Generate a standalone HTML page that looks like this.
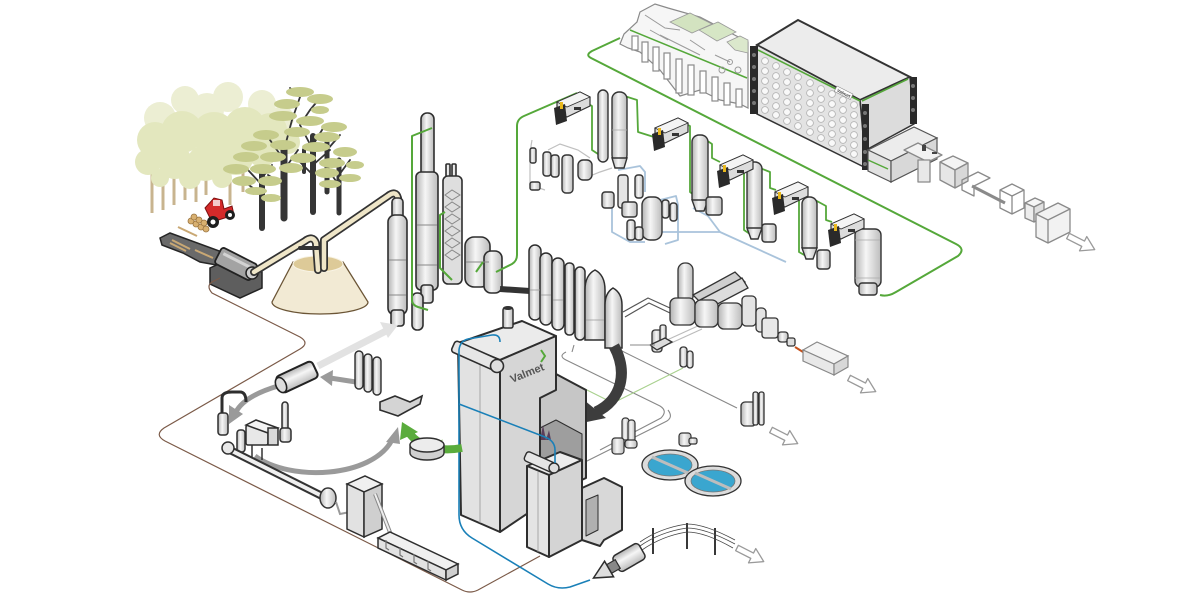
<!DOCTYPE html>
<html><head><meta charset="utf-8">
<style>html,body{margin:0;padding:0;background:#fff}svg{display:block}</style>
</head><body>
<svg xmlns="http://www.w3.org/2000/svg" width="1200" height="600" viewBox="0 0 1200 600">
<defs>
<linearGradient id="cy" x1="0" x2="1" y1="0" y2="0">
<stop offset="0" stop-color="#b3b3b3"/><stop offset="0.42" stop-color="#f6f6f6"/><stop offset="1" stop-color="#bcbcbc"/>
</linearGradient>
<linearGradient id="cyv" x1="0" x2="0" y1="0" y2="1">
<stop offset="0" stop-color="#b3b3b3"/><stop offset="0.42" stop-color="#f6f6f6"/><stop offset="1" stop-color="#bcbcbc"/>
</linearGradient>
<g id="wsh">
<polygon points="3,10 26,0 36,5 36,14 13,25 3,20" fill="#dcdcdc" stroke="#333" stroke-width="1.2"/>
<polygon points="3,10 26,0 36,5 13,15" fill="#f4f4f4" stroke="#333" stroke-width="0.8"/>
<polygon points="0,16 11,12 13,29 2,33" fill="#2a2a2a"/>
<rect x="6" y="10" width="3" height="7" fill="#e8b81c"/>
<rect x="20" y="15" width="7" height="3" fill="#333"/>
</g>
<g id="arw">
<polygon points="0,-3 17,-3 17,-8 30,0 17,8 17,3 0,3" fill="#fff" stroke="#9a9a9a" stroke-width="1.3" stroke-linejoin="round"/>
</g>
</defs>

<!-- ================= TREES ================= -->
<g stroke="#c8b48f" stroke-width="3">
<line x1="152" y1="165" x2="152" y2="213"/><line x1="163" y1="165" x2="163" y2="210"/>
<line x1="174" y1="170" x2="174" y2="205"/><line x1="185" y1="168" x2="185" y2="200"/>
<line x1="196" y1="165" x2="196" y2="202"/><line x1="206" y1="160" x2="206" y2="195"/>
<line x1="230" y1="160" x2="230" y2="205"/><line x1="243" y1="160" x2="243" y2="192"/>
</g>
<g fill="#eceed3">
<circle cx="185" cy="100" r="14"/><circle cx="228" cy="97" r="15"/><circle cx="262" cy="104" r="14"/>
<circle cx="160" cy="118" r="16"/><circle cx="207" cy="110" r="17"/><circle cx="282" cy="118" r="12"/>
</g>
<g fill="#e3e7be">
<circle cx="155" cy="140" r="18"/><circle cx="182" cy="132" r="21"/><circle cx="214" cy="134" r="22"/>
<circle cx="245" cy="128" r="21"/><circle cx="270" cy="130" r="17"/><circle cx="288" cy="142" r="12"/>
<circle cx="148" cy="162" r="13"/><circle cx="175" cy="162" r="17"/><circle cx="205" cy="163" r="18"/>
<circle cx="236" cy="158" r="17"/><circle cx="262" cy="152" r="15"/><circle cx="190" cy="178" r="11"/>
<circle cx="160" cy="178" r="9"/><circle cx="222" cy="178" r="10"/>
</g>
<!-- dark trees -->
<g stroke="#353535" stroke-linecap="round" fill="none">
<line x1="262" y1="168" x2="262" y2="228" stroke-width="6"/>
<line x1="284" y1="145" x2="284" y2="218" stroke-width="7"/>
<line x1="313" y1="136" x2="313" y2="212" stroke-width="6"/>
<line x1="339" y1="160" x2="339" y2="213" stroke-width="5"/>
<line x1="327" y1="138" x2="327" y2="192" stroke-width="5"/>
<line x1="304" y1="150" x2="304" y2="172" stroke-width="4"/>
<g stroke-width="1.8">
<path d="M262,185 L248,170 M262,178 L272,165 M262,195 L245,182"/>
<path d="M284,160 L270,140 M284,170 L298,150 M284,150 L292,120 M284,185 L268,175"/>
<path d="M313,150 L300,125 M313,145 L325,125 M313,165 L330,150 M313,175 L298,160"/>
<path d="M339,175 L350,160 M339,185 L328,170 M327,150 L340,135"/>
<path d="M292,120 L300,97 M300,125 L310,110 M300,97 L290,88 M310,110 L320,98"/>
</g>
</g>
<g fill="#c6cc8c">
<ellipse cx="300" cy="92" rx="14" ry="5"/><ellipse cx="287" cy="104" rx="13" ry="5"/><ellipse cx="320" cy="99" rx="13" ry="5"/>
<ellipse cx="283" cy="116" rx="14" ry="5"/><ellipse cx="310" cy="121" rx="14" ry="5"/><ellipse cx="334" cy="127" rx="13" ry="5"/>
<ellipse cx="266" cy="135" rx="13" ry="5"/><ellipse cx="297" cy="132" rx="13" ry="5"/><ellipse cx="327" cy="137" rx="13" ry="5"/>
<ellipse cx="254" cy="146" rx="13" ry="5"/><ellipse cx="283" cy="145" rx="13" ry="5"/><ellipse cx="316" cy="147" rx="14" ry="5"/>
<ellipse cx="345" cy="152" rx="12" ry="5"/><ellipse cx="246" cy="157" rx="13" ry="5"/><ellipse cx="273" cy="157" rx="13" ry="5"/>
<ellipse cx="303" cy="158" rx="13" ry="5"/><ellipse cx="332" cy="163" rx="13" ry="5"/><ellipse cx="236" cy="169" rx="13" ry="5"/>
<ellipse cx="263" cy="169" rx="13" ry="5"/><ellipse cx="291" cy="168" rx="12" ry="5"/><ellipse cx="327" cy="173" rx="12" ry="5"/>
<ellipse cx="350" cy="178" rx="11" ry="4"/><ellipse cx="244" cy="181" rx="12" ry="5"/><ellipse cx="270" cy="181" rx="12" ry="5"/>
<ellipse cx="330" cy="184" rx="11" ry="4"/><ellipse cx="256" cy="191" rx="11" ry="4"/><ellipse cx="271" cy="198" rx="10" ry="4"/>
<ellipse cx="355" cy="165" rx="9" ry="4"/><ellipse cx="320" cy="110" rx="9" ry="4"/>
</g>

<!-- tractor + logs -->
<g>
<g fill="#d8b070" stroke="#9a7440" stroke-width="0.8">
<circle cx="191" cy="221" r="3"/><circle cx="196" cy="224" r="3"/><circle cx="201" cy="227" r="3"/><circle cx="206" cy="229" r="3"/>
<circle cx="194" cy="217" r="3"/><circle cx="199" cy="220" r="3"/><circle cx="204" cy="223" r="3"/>
</g>
<polygon points="205,208 214,198 222,200 224,209 232,206 234,215 212,222" fill="#d42a2a" stroke="#7a1010" stroke-width="1"/>
<rect x="213" y="200" width="7" height="6" fill="#f3c9c9"/>
<circle cx="213" cy="222" r="6" fill="#1e1e1e"/><circle cx="213" cy="222" r="2.5" fill="#fff"/>
<circle cx="230" cy="215" r="5" fill="#1e1e1e"/><circle cx="230" cy="215" r="2" fill="#fff"/>
</g>

<!-- chipper -->
<polygon points="160,238 170,233 222,252 222,266 200,262 183,253 162,245" fill="#6a6a6a" stroke="#262626" stroke-width="1.5"/>
<g stroke="#c9a874" stroke-width="2">
<line x1="172" y1="240" x2="190" y2="249"/><line x1="170" y1="243" x2="186" y2="251"/>
<line x1="195" y1="250" x2="213" y2="258"/><line x1="178" y1="227" x2="197" y2="236"/>
</g>
<polygon points="210,268 232,258 262,272 262,288 240,298 210,284" fill="#5e5e5e" stroke="#222" stroke-width="1.5"/>
<g transform="translate(236,264) rotate(27)">
<rect x="-20" y="-9" width="40" height="18" rx="3" fill="#a3a3a3" stroke="#222" stroke-width="1.8"/>
<rect x="-16" y="-5" width="32" height="3" fill="#d3d3d3"/>
</g>
<circle cx="252" cy="273" r="6" fill="#cfcfcf" stroke="#222" stroke-width="1.5"/>

<!-- brown line -->
<path d="M220,278 L212,282 Q206,286 212,293 L300,337 Q310,343 300,349 L164,428 Q154,435 165,441 L462,590 Q470,594 478,590 L540,556" fill="none" stroke="#7b5a48" stroke-width="1.2"/>

<!-- pile -->
<path d="M293,262 L272,302 A48,12 0 0 0 368,302 L343,262 Z" fill="#f2ead4" stroke="#6b5536" stroke-width="1.3"/>
<ellipse cx="318" cy="264" rx="25" ry="8" fill="#ddca98" stroke="#f8f3e4" stroke-width="1"/>

<!-- pipes -->
<g fill="none" stroke-linejoin="round" stroke-linecap="round">
<path d="M254,272 L305,241 Q313,235 316,243 L318,270" stroke="#333" stroke-width="8"/>
<path d="M254,272 L305,241 Q313,235 316,243 L318,270" stroke="#efe6c8" stroke-width="4.5"/>
<path d="M300,248 L318,248" stroke="#333" stroke-width="4"/>
<path d="M324,268 L324,240 L388,196 Q396,190 398,198 L398,206" stroke="#333" stroke-width="8"/>
<path d="M324,268 L324,240 L388,196 Q396,190 398,198 L398,206" stroke="#efe6c8" stroke-width="4.5"/>
</g>

<!-- tall columns -->
<g stroke="#2e2e2e" stroke-width="1.6" fill="url(#cy)">
<rect x="421" y="113" width="13" height="70" rx="6"/>
<rect x="416" y="172" width="22" height="118" rx="5"/>
<rect x="421" y="285" width="12" height="18" rx="3"/>
<rect x="392" y="198" width="11" height="24" rx="4"/>
<rect x="388" y="215" width="19" height="100" rx="7"/>
<rect x="391" y="310" width="13" height="16" rx="3"/>
<rect x="412" y="293" width="11" height="37" rx="5"/>
<rect x="446" y="164" width="4" height="18" rx="1"/><rect x="452" y="164" width="4" height="18" rx="1"/>
<rect x="443" y="176" width="19" height="108" rx="5" fill="#dedede"/>
<rect x="465" y="237" width="25" height="50" rx="9"/>
<rect x="484" y="251" width="18" height="42" rx="7"/>
</g>
<g stroke="#888" stroke-width="1" fill="none">
<line x1="417" y1="225" x2="437" y2="225"/><line x1="417" y1="265" x2="437" y2="265"/>
<line x1="389" y1="260" x2="406" y2="260"/><line x1="389" y1="295" x2="406" y2="295"/>
<path d="M445,195 l7,-5 l8,5 l-8,5 z M445,207 l7,-5 l8,5 l-8,5 z M445,219 l7,-5 l8,5 l-8,5 z M445,231 l7,-5 l8,5 l-8,5 z M445,243 l7,-5 l8,5 l-8,5 z M445,255 l7,-5 l8,5 l-8,5 z"/>
<line x1="466" y1="262" x2="489" y2="262"/>
</g>
<line x1="500" y1="289" x2="530" y2="291" stroke="#333" stroke-width="6"/>

<!-- green lines near columns -->
<g fill="none" stroke="#55a83a" stroke-width="2" stroke-linejoin="round">
<path d="M432,128 L412,136 L412,300 Q412,305 418,307 L428,310"/>
<path d="M445,212 L440,215 L440,268 L452,280"/>
<path d="M483,262 L476,272"/>
<path d="M496,272 L512,264 Q517,261 517,255 L517,126 Q517,119 524,116 L577,93"/>
</g>

<!-- ============ PAPER MACHINE ============ -->
<polygon points="620,44 624,34 637,22 640,12 655,4 668,8 700,17 748,42 748,108 740,104 720,100 700,90 680,96 660,70 640,52 628,48" fill="#f6f6f6" stroke="#8a8a8a" stroke-width="1.2"/>
<g fill="#fff" stroke="#8a8a8a" stroke-width="1.2">
<rect x="632" y="36" width="6" height="14"/><rect x="642" y="42" width="6" height="20"/>
<rect x="653" y="47" width="6" height="24"/><rect x="664" y="53" width="6" height="26"/>
<rect x="676" y="59" width="6" height="34"/><rect x="688" y="65" width="6" height="30"/>
<rect x="700" y="71" width="6" height="22"/><rect x="712" y="77" width="6" height="24"/>
<rect x="724" y="83" width="6" height="22"/><rect x="736" y="89" width="6" height="18"/>
</g>
<polygon points="670,22 690,13 712,24 692,33" fill="#d3e3c0" stroke="#9a9a9a" stroke-width="0.8"/>
<polygon points="699,30 718,22 736,32 717,41" fill="#d6e6c5" stroke="#9a9a9a" stroke-width="0.8"/>
<polygon points="727,42 740,36 748,40 748,53 735,50" fill="#dbe8cc" stroke="#9a9a9a" stroke-width="0.8"/>
<line x1="630" y1="30" x2="747" y2="78" stroke="#55a83a" stroke-width="1.5"/>
<g fill="none" stroke="#9a9a9a" stroke-width="1">
<path d="M645,15 L665,28 L680,30 M690,40 L705,50 M715,55 L730,62 M660,35 L700,55 M650,30 L668,40"/>
<circle cx="722" cy="70" r="3"/><circle cx="738" cy="70" r="3"/><circle cx="730" cy="62" r="2.5"/>
</g>

<!-- big hood box -->
<polygon points="757,45 798,20 910,77 860,100" fill="#ececec" stroke="#333" stroke-width="2"/>
<polygon points="757,45 860,100 866,168 757,114" fill="#e3e3e3" stroke="#333" stroke-width="1.5"/>
<polygon points="860,100 910,77 914,124 866,150" fill="#dcdcdc" stroke="#333" stroke-width="1.5"/>
<line x1="758" y1="50" x2="860" y2="101" stroke="#55a83a" stroke-width="1.6"/>
<line x1="862" y1="101" x2="908" y2="79" stroke="#55a83a" stroke-width="1.6"/>
<g fill="#f9f9f9" stroke="#b0b0b0" stroke-width="0.8">
<circle cx="765" cy="61" r="3.4"/><circle cx="765" cy="71" r="3.4"/><circle cx="765" cy="81" r="3.4"/><circle cx="765" cy="91" r="3.4"/><circle cx="765" cy="101" r="3.4"/><circle cx="765" cy="110" r="3.4"/>
<circle cx="776" cy="66" r="3.4"/><circle cx="776" cy="76" r="3.4"/><circle cx="776" cy="86" r="3.4"/><circle cx="776" cy="96" r="3.4"/><circle cx="776" cy="106" r="3.4"/><circle cx="776" cy="115" r="3.4"/>
<circle cx="787" cy="72" r="3.4"/><circle cx="787" cy="82" r="3.4"/><circle cx="787" cy="92" r="3.4"/><circle cx="787" cy="102" r="3.4"/><circle cx="787" cy="112" r="3.4"/><circle cx="787" cy="121" r="3.4"/>
<circle cx="798" cy="77" r="3.4"/><circle cx="798" cy="87" r="3.4"/><circle cx="798" cy="97" r="3.4"/><circle cx="798" cy="107" r="3.4"/><circle cx="798" cy="117" r="3.4"/><circle cx="798" cy="126" r="3.4"/>
<circle cx="810" cy="83" r="3.4"/><circle cx="810" cy="93" r="3.4"/><circle cx="810" cy="103" r="3.4"/><circle cx="810" cy="113" r="3.4"/><circle cx="810" cy="123" r="3.4"/><circle cx="810" cy="132" r="3.4"/>
<circle cx="821" cy="89" r="3.4"/><circle cx="821" cy="99" r="3.4"/><circle cx="821" cy="109" r="3.4"/><circle cx="821" cy="119" r="3.4"/><circle cx="821" cy="129" r="3.4"/><circle cx="821" cy="138" r="3.4"/>
<circle cx="832" cy="94" r="3.4"/><circle cx="832" cy="104" r="3.4"/><circle cx="832" cy="114" r="3.4"/><circle cx="832" cy="124" r="3.4"/><circle cx="832" cy="134" r="3.4"/><circle cx="832" cy="143" r="3.4"/>
<circle cx="843" cy="100" r="3.4"/><circle cx="843" cy="110" r="3.4"/><circle cx="843" cy="120" r="3.4"/><circle cx="843" cy="130" r="3.4"/><circle cx="843" cy="140" r="3.4"/><circle cx="843" cy="149" r="3.4"/>
<circle cx="854" cy="105" r="3.4"/><circle cx="854" cy="115" r="3.4"/><circle cx="854" cy="125" r="3.4"/><circle cx="854" cy="135" r="3.4"/><circle cx="854" cy="145" r="3.4"/><circle cx="854" cy="154" r="3.4"/>
</g>
<g fill="#2a2a2a">
<rect x="750" y="46" width="8" height="68"/>
<rect x="862" y="104" width="7" height="66"/>
<rect x="910" y="77" width="7" height="47"/>
</g>
<g fill="#777">
<circle cx="754" cy="55" r="2"/><circle cx="754" cy="67" r="2"/><circle cx="754" cy="79" r="2"/><circle cx="754" cy="91" r="2"/><circle cx="754" cy="103" r="2"/>
<circle cx="865" cy="113" r="2"/><circle cx="865" cy="126" r="2"/><circle cx="865" cy="139" r="2"/><circle cx="865" cy="152" r="2"/><circle cx="865" cy="164" r="2"/>
<circle cx="913" cy="86" r="2"/><circle cx="913" cy="98" r="2"/><circle cx="913" cy="110" r="2"/>
</g>
<g transform="translate(837,86) rotate(27)">
<rect x="0" y="0" width="18" height="6" fill="#fff" stroke="#888" stroke-width="0.6"/>
<text x="2" y="5" font-family="Liberation Sans, sans-serif" font-size="4.5" font-weight="bold" fill="#444">Valmet</text>
</g>
<!-- platform -->
<polygon points="868,150 914,127 937,138 891,161" fill="#ececec" stroke="#555" stroke-width="1.2"/>
<polygon points="868,150 891,161 891,182 868,171" fill="#e2e2e2" stroke="#555" stroke-width="1.2"/>
<polygon points="891,161 937,138 937,159 891,182" fill="#d8d8d8" stroke="#555" stroke-width="1.2"/>
<line x1="868" y1="160" x2="888" y2="169" stroke="#55a83a" stroke-width="1.5"/>
<!-- finishing line -->
<g stroke="#8a8a8a" stroke-width="1.3" stroke-linejoin="round">
<polygon points="904,150 918,143 942,155 928,162" fill="#f2f2f2"/>
<polygon points="918,160 930,160 930,182 918,182" fill="#e8e8e8"/>
<polygon points="940,162 953,156 968,163 955,170" fill="#f4f4f4"/>
<polygon points="940,162 955,170 955,188 940,180" fill="#e6e6e6"/>
<polygon points="955,170 968,163 968,181 955,188" fill="#d8d8d8"/>
<polygon points="962,180 978,172 990,178 974,186 974,196 962,190" fill="none"/>
<line x1="972" y1="186" x2="1005" y2="203" stroke-width="3"/>
<polygon points="1000,190 1012,184 1024,190 1024,208 1012,214 1000,208" fill="none"/>
<line x1="1000" y1="190" x2="1012" y2="196"/><line x1="1012" y1="196" x2="1024" y2="190"/><line x1="1012" y1="196" x2="1012" y2="214"/>
<polygon points="1025,203 1035,198 1044,202 1034,207" fill="#f6f6f6"/>
<polygon points="1025,203 1034,207 1034,222 1025,218" fill="#ededed"/>
<polygon points="1034,207 1044,202 1044,217 1034,222" fill="#e0e0e0"/>
<polygon points="1036,214 1058,203 1070,209 1070,232 1048,243 1036,237" fill="#f2f2f2"/>
<line x1="1048" y1="220" x2="1048" y2="243"/><line x1="1036" y1="214" x2="1048" y2="220"/><line x1="1048" y1="220" x2="1070" y2="209"/>
</g>
<g fill="#444"><rect x="922" y="145" width="4" height="6"/><rect x="932" y="152" width="5" height="2"/></g>
<use href="#arw" transform="translate(1068,236) rotate(27)"/>

<!-- big green line -->
<path d="M620,38 L592,51 Q585,55 591,58 L956,244 Q966,249 958,256 L896,292 Q888,297 880,295" fill="none" stroke="#55a83a" stroke-width="2" stroke-linejoin="round"/>

<!-- ============ PULP LINE ============ -->
<g fill="none" stroke="#55a83a" stroke-width="1.8" stroke-linejoin="round">
<path d="M585,102 L592,106 L592,150 L598,154"/>
<path d="M615,93 L637,100 L638,132 L654,137"/>
<path d="M682,122 L690,126 L690,192 L698,198"/>
<path d="M706,140 L712,144 L712,158 L720,162"/>
<path d="M746,160 L744,165 L744,230 L750,234"/>
<path d="M760,168 L770,172 L770,188 L776,190"/>
<path d="M800,190 L799,195 L799,252 L806,256"/>
<path d="M815,200 L826,206 L826,220 L832,222"/>
<path d="M855,228 L852,233"/>
</g>
<g fill="none" stroke="#a9c3db" stroke-width="1.8" stroke-linejoin="round">
<path d="M618,170 L640,166 L645,172 L645,192"/>
<path d="M612,205 L612,232 L630,242 L645,242"/>
<path d="M655,232 L720,232 L786,262"/>
<path d="M693,208 L708,216 L720,232"/>
<path d="M660,200 L676,196 L678,205 L678,240 L665,244"/>
</g>
<g fill="none" stroke="#c0c0c0" stroke-width="1.2">
<path d="M532,140 Q530,150 530,165 L530,185 L545,190"/>
<path d="M548,150 L560,144 L578,150 L590,158"/>
<path d="M585,178 L600,172 L612,168"/>
</g>
<g stroke="#333" stroke-width="1.4" fill="url(#cy)">
<rect x="598" y="90" width="10" height="72" rx="5"/>
<rect x="612" y="92" width="15" height="70" rx="7"/>
<polygon points="612,158 627,158 624,168 615,168"/>
<rect x="692" y="135" width="16" height="70" rx="7"/>
<polygon points="692,200 708,200 704,211 696,211"/>
<rect x="706" y="197" width="16" height="18" rx="3"/>
<rect x="747" y="162" width="15" height="72" rx="7"/>
<polygon points="747,228 762,228 758,239 751,239"/>
<rect x="762" y="224" width="14" height="18" rx="3"/>
<rect x="802" y="197" width="15" height="56" rx="7"/>
<polygon points="802,248 817,248 813,259 806,259"/>
<rect x="817" y="250" width="13" height="19" rx="3"/>
<rect x="855" y="229" width="26" height="58" rx="6"/>
<rect x="859" y="283" width="18" height="12" rx="3"/>
<rect x="530" y="148" width="6" height="15" rx="2"/>
<rect x="530" y="182" width="10" height="8" rx="2"/>
<rect x="543" y="152" width="8" height="24" rx="3"/>
<rect x="551" y="155" width="8" height="22" rx="3"/>
<rect x="562" y="155" width="11" height="38" rx="4"/>
<rect x="578" y="160" width="14" height="20" rx="5"/>
<rect x="602" y="192" width="12" height="16" rx="3"/>
<rect x="618" y="175" width="10" height="33" rx="3" fill="#e4e4e4"/>
<rect x="635" y="175" width="8" height="23" rx="3"/>
<rect x="622" y="202" width="15" height="15" rx="3"/>
<rect x="642" y="197" width="20" height="43" rx="8"/>
<rect x="627" y="220" width="8" height="20" rx="3"/>
<rect x="635" y="227" width="8" height="13" rx="3"/>
<rect x="662" y="200" width="7" height="18" rx="3"/>
<rect x="670" y="203" width="7" height="18" rx="3"/>
</g>
<g stroke="#aaa" stroke-width="0.8" fill="none">
<line x1="855" y1="240" x2="880" y2="240"/><line x1="855" y1="278" x2="880" y2="278"/>
<line x1="612" y1="130" x2="627" y2="130"/>
</g>
<use href="#wsh" transform="translate(554,92)"/>
<use href="#wsh" transform="translate(652,118)"/>
<use href="#wsh" transform="translate(717,155)"/>
<use href="#wsh" transform="translate(772,182)"/>
<use href="#wsh" transform="translate(828,214)"/>

<!-- ============ STACKS ============ -->
<g stroke="#2e2e2e" stroke-width="1.5" fill="url(#cy)">
<rect x="529" y="245" width="12" height="75" rx="6"/>
<rect x="540" y="253" width="12" height="72" rx="6"/>
<rect x="552" y="258" width="12" height="72" rx="6"/>
<rect x="565" y="263" width="9" height="72" rx="4"/>
<rect x="575" y="267" width="10" height="73" rx="5"/>
<path d="M585,340 L585,290 Q585,275 595,270 Q605,275 605,290 L605,340 Z"/>
<path d="M605,348 L605,305 Q605,293 613,288 Q622,293 622,305 L622,348 Z"/>
</g>
<g stroke="#999" stroke-width="0.8">
<line x1="530" y1="290" x2="540" y2="290"/><line x1="541" y1="295" x2="551" y2="295"/><line x1="553" y1="300" x2="563" y2="300"/>
<line x1="586" y1="320" x2="604" y2="320"/>
</g>

<!-- right mid cluster -->
<g fill="none" stroke="#555" stroke-width="1.2">
<path d="M623,312 L648,298 L670,308"/><path d="M625,317 L649,303 L670,313"/>
</g>
<g fill="none" stroke="#bbb" stroke-width="1.2">
<path d="M667,340 L700,325"/><path d="M669,344 L702,329"/>
</g>
<g stroke="#333" stroke-width="1.3" fill="url(#cy)">
<rect x="678" y="263" width="15" height="40" rx="7"/>
<polygon points="693,295 735,272 745,282 703,305" fill="#cfcfcf"/>
<polygon points="700,300 742,278 748,288 706,310" fill="#dcdcdc"/>
<rect x="670" y="298" width="25" height="27" rx="6"/>
<rect x="695" y="300" width="23" height="27" rx="6"/>
<rect x="718" y="303" width="24" height="26" rx="6"/>
<rect x="742" y="296" width="14" height="30" rx="4" fill="#e4e4e4"/>
<rect x="756" y="308" width="10" height="24" rx="4" fill="#e4e4e4"/>
<rect x="762" y="318" width="16" height="20" rx="3" fill="#e8e8e8"/>
<rect x="778" y="332" width="10" height="10" rx="3"/>
<rect x="787" y="338" width="8" height="8" rx="2" fill="#ddd"/>
<rect x="652" y="330" width="10" height="22" rx="3"/>
<rect x="660" y="325" width="6" height="18" rx="2"/>
<polygon points="650,345 665,338 672,342 657,350" fill="#ddd"/>
<rect x="680" y="347" width="7" height="20" rx="3"/>
<rect x="687" y="351" width="6" height="17" rx="3"/>
</g>
<line x1="795" y1="347" x2="803" y2="352" stroke="#c5501a" stroke-width="2"/>
<g stroke="#888" stroke-width="1.2">
<polygon points="803,350 817,342 848,356 834,364" fill="#f4f4f4"/>
<polygon points="803,350 834,364 834,375 803,361" fill="#e8e8e8"/>
<polygon points="834,364 848,356 848,367 834,375" fill="#d8d8d8"/>
</g>
<use href="#arw" transform="translate(849,378) rotate(27)"/>
<g stroke="#333" stroke-width="1.3" fill="url(#cy)">
<rect x="741" y="402" width="15" height="24" rx="4"/>
<rect x="753" y="392" width="5" height="33" rx="2"/>
<rect x="759" y="392" width="5" height="33" rx="2"/>
</g>
<use href="#arw" transform="translate(771,430) rotate(27)"/>
<g fill="none" stroke="#888" stroke-width="1.1">
<path d="M620,350 L737,408"/>
<path d="M566,352 Q558,356 566,360 L660,406 Q668,411 661,418 L600,450"/>
<path d="M574,345 L572,352"/>
<path d="M585,462 L665,422 Q674,418 668,410"/>
<path d="M655,345 L630,345"/>
</g>
<g fill="none" stroke="#a8d08d" stroke-width="1.1">
<path d="M553,380 L563,378 L613,403 L683,368"/>
<path d="M420,447 L443,440"/>
</g>

<!-- ============ DARK ARROW ============ -->
<path d="M614,346 C628,372 622,400 596,412" fill="none" stroke="#3d3d3d" stroke-width="11" stroke-linecap="butt"/>
<polygon points="577,424 584,400 606,418" fill="#3d3d3d"/>

<!-- ============ BOILER ============ -->
<g stroke="#2e2e2e" stroke-width="2" stroke-linejoin="round">
<polygon points="528,386 556,374 586,390 586,478 556,492 528,478" fill="#c6c6c6"/>
<polygon points="532,432 556,420 582,434 582,470 556,484 532,472" fill="#9e9e9e" stroke-width="1"/>
<polygon points="533,440 537,428 540,440 543,425 546,440 549,430 551,440" fill="#5a3e5a" stroke="none"/>
<polygon points="458,343 522,321 556,336 500,360" fill="#ebebeb"/>
<polygon points="458,343 500,360 500,532 461,515" fill="#e2e2e2"/>
<polygon points="500,360 556,336 556,390 540,398 540,505 500,532" fill="#d6d6d6"/>
<polygon points="527,466 560,452 582,460 549,475" fill="#ededed"/>
<polygon points="527,466 549,475 549,557 527,547" fill="#e4e4e4"/>
<polygon points="549,475 582,460 582,540 549,557" fill="#d4d4d4"/>
<polygon points="582,488 604,478 622,487 622,530 604,540 600,546 582,540" fill="#d8d8d8"/>
<polygon points="586,500 598,495 598,530 586,536" fill="#b0b0b0" stroke-width="1"/>
</g>
<g stroke="#999" stroke-width="0.8">
<line x1="480" y1="352" x2="480" y2="523"/>
<line x1="538" y1="472" x2="538" y2="552"/>
</g>
<rect x="503" y="308" width="10" height="20" rx="2" fill="url(#cy)" stroke="#2e2e2e" stroke-width="1.5"/>
<ellipse cx="508" cy="308" rx="5" ry="2" fill="#333"/>
<g transform="translate(476,356) rotate(24)">
<rect x="-25" y="-6" width="50" height="12" rx="3" fill="#e6e6e6" stroke="#2e2e2e" stroke-width="1.6"/>
</g>
<circle cx="497" cy="366" r="6.5" fill="#dedede" stroke="#2e2e2e" stroke-width="1.6"/>
<g transform="translate(540,462) rotate(24)">
<rect x="-16" y="-5" width="32" height="10" rx="3" fill="#e6e6e6" stroke="#2e2e2e" stroke-width="1.4"/>
</g>
<circle cx="554" cy="468" r="5" fill="#dedede" stroke="#2e2e2e" stroke-width="1.4"/>
<text x="512" y="383" transform="rotate(-22 512 383)" font-family="Liberation Sans, sans-serif" font-weight="bold" font-size="11" fill="#555">Valmet</text>
<path d="M541,350 L545,356 L541,362" fill="none" stroke="#55a83a" stroke-width="2"/>

<!-- blue lines -->
<g fill="none" stroke="#1a80b8" stroke-width="1.6" stroke-linejoin="round">
<path d="M500,342 Q500,334 492,335 L468,339 Q460,341 459,350 L459,515 Q459,530 472,538 L548,584 Q558,590 570,587 L590,580"/>
<path d="M459,404 L545,437 Q555,441 555,450 L555,463"/>
</g>

<!-- turbine -->
<g transform="translate(616,565) rotate(-30)">
<rect x="0" y="-9" width="30" height="18" rx="4" fill="url(#cyv)" stroke="#2e2e2e" stroke-width="1.5"/>
<rect x="-8" y="-5" width="10" height="10" fill="#888" stroke="#2e2e2e" stroke-width="1.2"/>
<polygon points="-26,0 -8,-9 -8,9" fill="#dedede" stroke="#2e2e2e" stroke-width="1.5"/>
</g>
<!-- power lines -->
<g stroke="#222" stroke-width="1.8">
<line x1="653" y1="528" x2="653" y2="554"/><line x1="687" y1="523" x2="687" y2="549"/><line x1="715" y1="528" x2="715" y2="555"/>
</g>
<g fill="none" stroke="#444" stroke-width="0.8">
<path d="M640,542 Q660,528 687,524 Q705,524 735,540"/>
<path d="M640,546 Q660,532 687,528 Q705,528 735,544"/>
<path d="M642,550 Q662,536 687,532 Q705,532 733,548"/>
</g>
<use href="#arw" transform="translate(737,548) rotate(27)"/>

<!-- basins -->
<g stroke="#333" stroke-width="1.3">
<ellipse cx="670" cy="465" rx="28" ry="15" fill="#dcdcdc"/>
<ellipse cx="713" cy="481" rx="28" ry="15" fill="#dcdcdc"/>
<ellipse cx="670" cy="465" rx="22" ry="11" fill="#3aa6cf" stroke="#777" stroke-width="0.8"/>
<ellipse cx="713" cy="481" rx="22" ry="11" fill="#3aa6cf" stroke="#777" stroke-width="0.8"/>
</g>
<g stroke="#bdbdbd" stroke-width="3">
<line x1="652" y1="457" x2="688" y2="473"/><line x1="695" y1="473" x2="731" y2="489"/>
</g>
<g stroke="#333" stroke-width="1.2" fill="url(#cy)">
<rect x="622" y="418" width="7" height="22" rx="3"/><rect x="628" y="420" width="7" height="22" rx="3"/>
<rect x="612" y="438" width="12" height="16" rx="3"/>
<rect x="625" y="440" width="12" height="8" rx="3"/>
<rect x="679" y="433" width="12" height="13" rx="3"/>
<rect x="689" y="438" width="8" height="6" rx="2"/>
</g>

<!-- ============ BOTTOM LEFT ============ -->
<path d="M318,366 L386,331" stroke="#e2e2e2" stroke-width="7" fill="none"/>
<polygon points="398,325 380,322 388,338" fill="#e2e2e2"/>
<g fill="none" stroke="#9a9a9a" stroke-width="5" stroke-linecap="butt">
<path d="M278,386 C258,392 242,400 236,412"/>
<path d="M255,456 C290,482 372,478 392,440"/>
<path d="M356,382 L330,378"/>
</g>
<g fill="#9a9a9a">
<polygon points="229,424 229,405 243,414"/>
<polygon points="398,427 386,442 400,444"/>
<polygon points="320,377 333,370 332,386"/>
</g>
<path d="M462,448 C440,452 420,447 410,434" stroke="#5aac3c" stroke-width="8" fill="none"/>
<polygon points="402,422 400,440 418,432" fill="#5aac3c"/>
<g transform="translate(297,377) rotate(-25)">
<rect x="-20" y="-9" width="40" height="18" rx="4" fill="url(#cyv)" stroke="#222" stroke-width="2"/>
</g>
<ellipse cx="281" cy="385" rx="5" ry="8" transform="rotate(-25 281 385)" fill="#ddd" stroke="#222" stroke-width="1.6"/>
<g stroke="#2e2e2e" stroke-width="1.4" fill="url(#cy)">
<rect x="355" y="351" width="8" height="38" rx="4"/>
<rect x="364" y="354" width="8" height="38" rx="4"/>
<rect x="373" y="357" width="8" height="38" rx="4"/>
</g>
<polygon points="380,402 395,396 410,402 422,396 420,404 398,416 380,410" fill="#d4d4d4" stroke="#2e2e2e" stroke-width="1.6"/>
<path d="M410,445 L410,453 A17,7 0 0 0 444,453 L444,445 Z" fill="#cfcfcf" stroke="#2e2e2e" stroke-width="1.4"/>
<ellipse cx="427" cy="445" rx="17" ry="7" fill="#ececec" stroke="#2e2e2e" stroke-width="1.4"/>
<g stroke="#2e2e2e" stroke-width="1.5" fill="url(#cy)">
<path d="M222,415 L222,398 Q222,392 232,392 L240,392 Q246,392 246,402" fill="none" stroke-width="3"/>
<rect x="218" y="413" width="10" height="22" rx="3"/>
<rect x="246" y="425" width="22" height="20" rx="2" fill="#e8e8e8"/>
<polygon points="246,425 256,420 278,428 268,433" fill="#f4f4f4"/>
<rect x="268" y="428" width="10" height="17" fill="#d8d8d8"/>
<rect x="282" y="402" width="6" height="30" rx="3"/>
<rect x="280" y="428" width="11" height="14" rx="3"/>
<rect x="237" y="430" width="8" height="22" rx="3"/>
</g>
<line x1="252" y1="445" x2="252" y2="458" stroke="#333" stroke-width="1.5"/>
<line x1="262" y1="448" x2="262" y2="460" stroke="#333" stroke-width="1.5"/>
<path d="M226,448 L334,502" stroke="#333" stroke-width="8" fill="none"/>
<path d="M226,448 L334,502" stroke="#efefef" stroke-width="4" fill="none"/>
<circle cx="228" cy="448" r="6" fill="#e8e8e8" stroke="#333" stroke-width="1.5"/>
<ellipse cx="328" cy="498" rx="8" ry="10" fill="url(#cy)" stroke="#333" stroke-width="1.5"/>
<path d="M336,502 L340,514 L350,512" fill="none" stroke="#999" stroke-width="2"/>
<g stroke="#2e2e2e" stroke-width="1.5">
<polygon points="347,484 365,476 382,484 364,492" fill="#f0f0f0"/>
<polygon points="347,484 364,492 364,537 347,529" fill="#e2e2e2"/>
<polygon points="364,492 382,484 382,529 364,537" fill="#cfcfcf"/>
</g>
<path d="M375,494 L393,540" stroke="#888" stroke-width="4"/>
<path d="M375,494 L393,540" stroke="#eee" stroke-width="2"/>
<g stroke="#2e2e2e" stroke-width="1.5">
<polygon points="378,538 390,532 458,564 446,570" fill="#f0f0f0"/>
<polygon points="378,538 446,570 446,580 378,548" fill="#e2e2e2"/>
<polygon points="446,570 458,564 458,574 446,580" fill="#cfcfcf"/>
</g>
<g fill="none" stroke="#777" stroke-width="1.2">
<path d="M386,540 l0,8 l3,2 M400,547 l0,8 l3,2 M414,554 l0,8 l3,2 M428,561 l0,8 l3,2"/>
</g>
</svg>
</body></html>
